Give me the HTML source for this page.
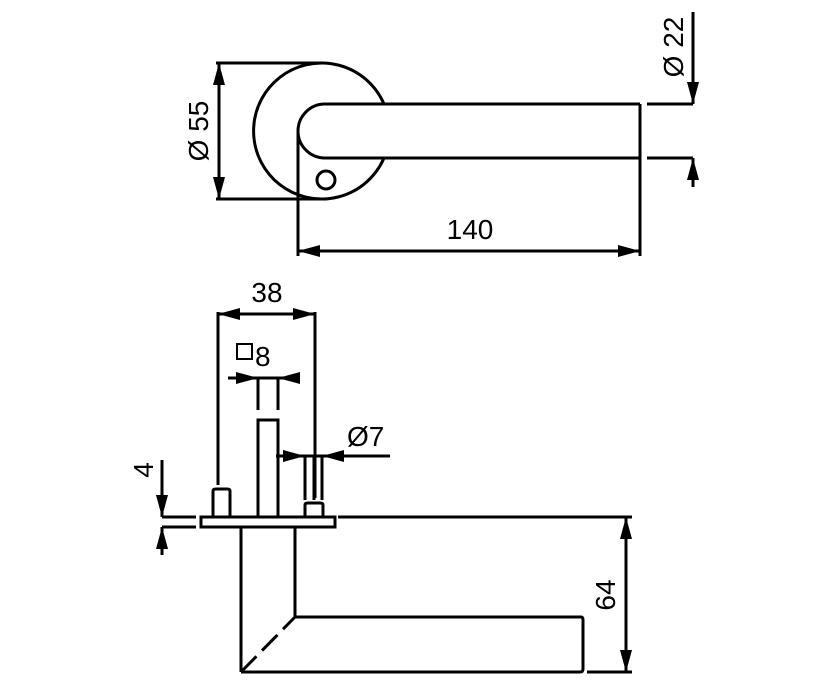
<!DOCTYPE html>
<html><head><style>html,body{margin:0;padding:0;background:#fff}svg{display:block}</style></head>
<body>
<svg width="816" height="682" viewBox="0 0 816 682" xmlns="http://www.w3.org/2000/svg" font-family="Liberation Sans, sans-serif">
<defs>
<marker id="a" viewBox="0 0 22 12" refX="22" refY="6" markerWidth="22" markerHeight="12" markerUnits="userSpaceOnUse" orient="auto-start-reverse"><path d="M0,0L22,6L0,12z" fill="#000"/></marker>
</defs>
<g stroke="#000" stroke-width="3" fill="none">
<path d="M384,104 A68,68 0 1 0 384,158" />
<path d="M640,104 H325 A27,27 0 0 0 325,158 H640 V104"/>
<circle cx="326" cy="180" r="9"/>
<line x1="298" y1="131" x2="298" y2="256"/>
<line x1="640" y1="158" x2="640" y2="256"/>
<line x1="298" y1="251" x2="640" y2="251" marker-start="url(#a)" marker-end="url(#a)"/>
<line x1="216" y1="63" x2="322" y2="63"/>
<line x1="216" y1="199" x2="322" y2="199"/>
<line x1="219" y1="63" x2="219" y2="199" marker-start="url(#a)" marker-end="url(#a)"/>
<line x1="647" y1="104" x2="693" y2="104"/>
<line x1="647" y1="158" x2="693" y2="158"/>
<line x1="693" y1="12" x2="693" y2="104" marker-end="url(#a)"/>
<line x1="693" y1="187" x2="693" y2="158" marker-end="url(#a)"/>
<line x1="218" y1="314" x2="315" y2="314" marker-start="url(#a)" marker-end="url(#a)"/>
<line x1="218" y1="312" x2="218" y2="485"/>
<line x1="315" y1="312" x2="315" y2="498"/>
<line x1="228" y1="378" x2="258" y2="378" marker-end="url(#a)"/>
<line x1="300" y1="378" x2="278" y2="378" marker-end="url(#a)"/>
<line x1="258" y1="378" x2="278" y2="378"/>
<line x1="258" y1="378" x2="258" y2="410"/>
<line x1="278" y1="378" x2="278" y2="410"/>
<rect x="258" y="420" width="20" height="97"/>
<line x1="276" y1="456" x2="305" y2="456" marker-end="url(#a)"/>
<line x1="390" y1="456" x2="322" y2="456" marker-end="url(#a)"/>
<line x1="305" y1="456" x2="322" y2="456"/>
<line x1="305" y1="456" x2="305" y2="500"/>
<line x1="314" y1="456" x2="314" y2="500"/>
<line x1="322" y1="456" x2="322" y2="500"/>
<path d="M213,517 V491 Q213,489 216,489 H227 Q230,489 230,491 V517"/>
<path d="M305,517 V505 Q305,503 308,503 H320 Q323,503 323,505 V517"/>
<rect x="201" y="517" width="134" height="10"/>
<line x1="162" y1="517" x2="196" y2="517"/>
<line x1="162" y1="527" x2="196" y2="527"/>
<line x1="162" y1="460" x2="162" y2="517" marker-end="url(#a)"/>
<line x1="162" y1="555" x2="162" y2="527" marker-end="url(#a)"/>
<line x1="338" y1="517" x2="632" y2="517"/>
<line x1="241" y1="527" x2="241" y2="672"/>
<line x1="295" y1="527" x2="295" y2="617"/>
<path d="M295,617 H581 Q583,617 583,620 V669 Q583,672 580,672 H241"/>
<line x1="241" y1="672" x2="295" y2="617" stroke-dasharray="22,8"/>
<line x1="587" y1="672" x2="632" y2="672"/>
<line x1="626" y1="517" x2="626" y2="672" marker-start="url(#a)" marker-end="url(#a)"/>
<rect x="237" y="344" width="15" height="15" stroke-width="2"/>
</g>
<g font-size="28" fill="#000">
<text x="470" y="239" text-anchor="middle">140</text>
<text transform="translate(208,131) rotate(-90)" text-anchor="middle">Ø 55</text>
<text transform="translate(683,47) rotate(-90)" text-anchor="middle">Ø 22</text>
<text x="267" y="302" text-anchor="middle">38</text>
<text x="255" y="366">8</text>
<text x="347" y="446">Ø7</text>
<text transform="translate(153,470) rotate(-90)" text-anchor="middle">4</text>
<text transform="translate(615,595) rotate(-90)" text-anchor="middle">64</text>
</g>
</svg>
</body></html>
